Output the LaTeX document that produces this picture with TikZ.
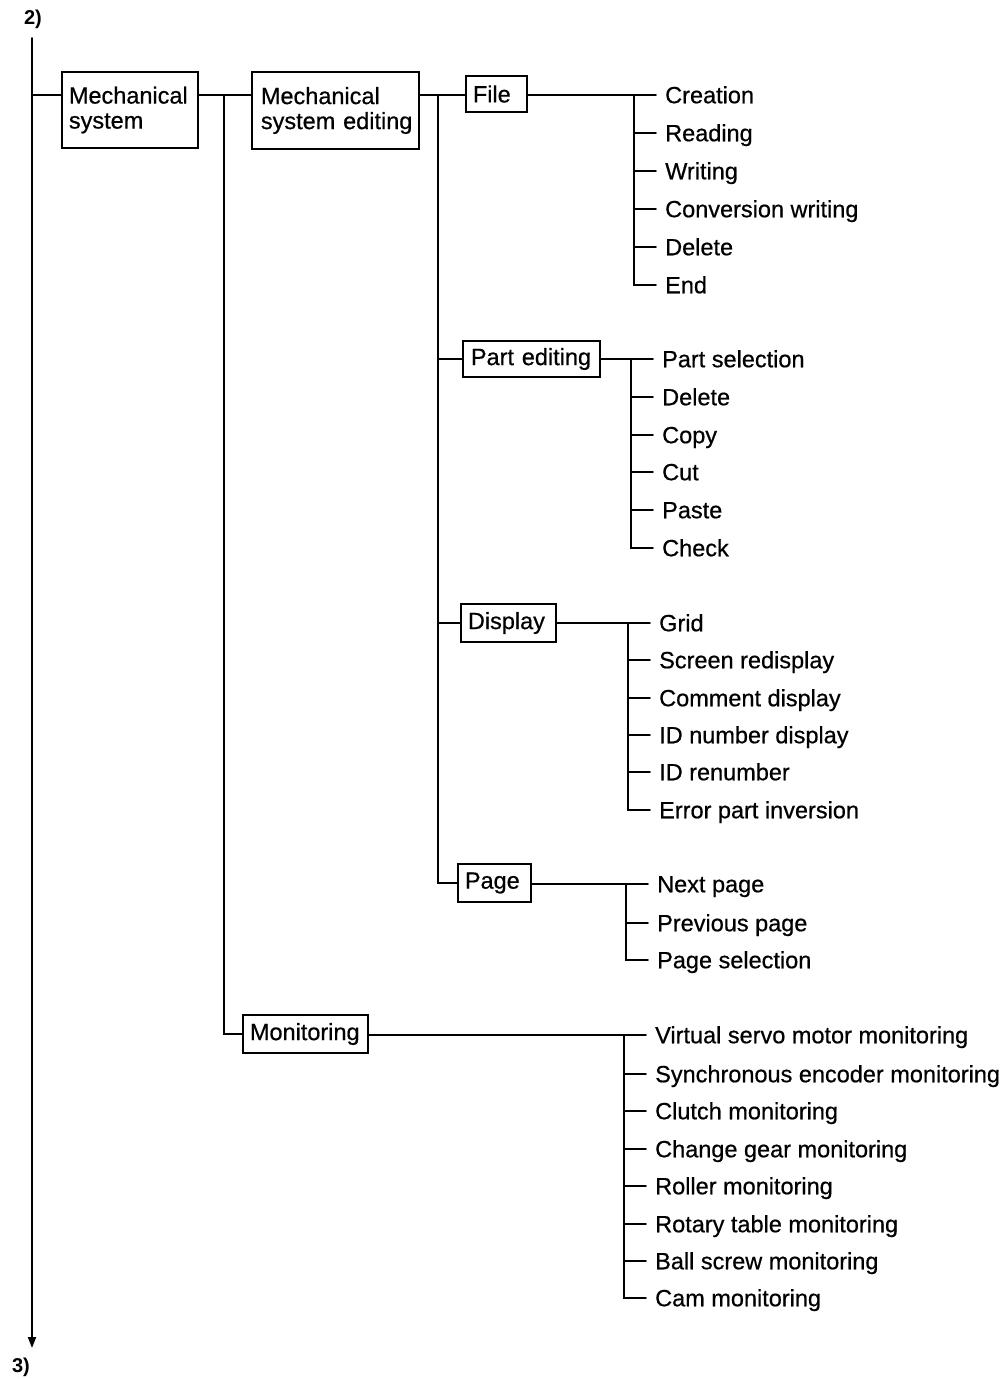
\documentclass[tikz,border=0pt]{standalone}
\usepackage{fontspec}
\setmainfont{Liberation Sans}
\newfontfamily\menufamily{Liberation Sans}[FakeBold=0.6]
\usetikzlibrary{arrows.meta}
\newcommand\menufont{\menufamily\fontsize{23.5}{25}\selectfont}
\newcommand\pagemarkfont{\fontsize{20}{22}\selectfont\bfseries}
\begin{document}
\begin{tikzpicture}[x=1pt,y=-1pt,
  line/.style={line width=1.8pt, line cap=round},
  box/.style={draw, line width=1.8pt, anchor=west, align=left,
              inner ysep=0pt, font=\menufont},
  item/.style={anchor=west, inner xsep=9pt, inner ysep=0pt,
               text height=16.5pt, text depth=0pt, font=\menufont},
  pagemark/.style={inner sep=0pt, font=\pagemarkfont}]
\useasboundingbox (0,0) rectangle (1004,1379);

% page continuation marks and the main trunk
\node[pagemark] (from) at (33,19) {2)};
\node[pagemark] (to) at (21,1367) {3)};
\coordinate (mtop) at (32,38);
\coordinate (mbot) at (32,1348);
\draw[line, -{Triangle[length=11pt,width=8pt]}] (mtop) -- (mbot);

% menu boxes
\node[box, inner xsep=7pt, text width=122pt, minimum height=76pt] (ms)  at (61,110)   {Mechanical\\system};
\node[box, inner xsep=6pt, text width=155pt, minimum height=77pt] (mse) at (251,110.5) {\hspace*{3pt}Mechanical\\\hspace*{3pt}\mbox{system editing}};
\node[box, inner xsep=7pt, text width=47pt,  minimum height=36pt] (file) at (465,94)  {File};
\node[box, inner xsep=8pt, text width=121pt, minimum height=36pt] (part) at (462,359) {Part editing};
\node[box, inner xsep=7pt, text width=81pt,  minimum height=38pt] (disp) at (460,623) {Display};
\node[box, inner xsep=7pt, text width=59pt,  minimum height=38pt] (page) at (457,883) {Page};
\node[box, inner xsep=7pt, text width=111pt, minimum height=38pt] (mon)  at (242,1034) {Monitoring};

% upper-level connectors
\coordinate (y1) at (0,95);
\coordinate (v1) at (224,95);
\coordinate (v2) at (438,95);
\draw[line] (mtop |- y1) -- (ms.west |- y1);
\draw[line] (ms.east |- y1) -- (mse.west |- y1);
\draw[line] (v1) |- (mon.west);
\draw[line] (mse.east |- y1) -- (file.west |- y1);
\draw[line] (v2) |- (page.west);
\draw[line] (v2 |- part.west) -- (part.west);
\draw[line] (v2 |- disp.west) -- (disp.west);

% File submenu
\coordinate (fv) at (634,0);
\foreach \n/\y/\t in {f1/95/Creation, f2/133/Reading, f3/171/Writing,
                      f4/209/Conversion writing, f5/247/Delete, f6/285/End}
  \node[item] (\n) at (656,\y) {\t};
\draw[line] (file.east |- f1.west) -- (fv |- f1.west) |- (f6.west);
\foreach \n in {f1,f2,f3,f4,f5}
  \draw[line] (fv |- \n.west) -- (\n.west);

% Part editing submenu
\coordinate (pv) at (631,0);
\foreach \n/\y/\t in {p1/359/Part selection, p2/397/Delete, p3/435/Copy,
                      p4/472/Cut, p5/510/Paste, p6/548/Check}
  \node[item] (\n) at (653,\y) {\t};
\draw[line] (part.east) -- (p1.west);
\draw[line] (pv |- p1.west) |- (p6.west);
\foreach \n in {p2,p3,p4,p5}
  \draw[line] (pv |- \n.west) -- (\n.west);

% Display submenu
\coordinate (dv) at (628,0);
\foreach \n/\y/\t in {d1/623/Grid, d2/660/Screen redisplay, d3/698/Comment display,
                      d4/735/ID number display, d5/772/ID renumber,
                      d6/810/Error part inversion}
  \node[item] (\n) at (650,\y) {\t};
\draw[line] (disp.east) -- (d1.west);
\draw[line] (dv |- d1.west) |- (d6.west);
\foreach \n in {d2,d3,d4,d5}
  \draw[line] (dv |- \n.west) -- (\n.west);

% Page submenu
\coordinate (gv) at (626,0);
\foreach \n/\y/\t in {g1/884/Next page, g2/923/Previous page, g3/960/Page selection}
  \node[item] (\n) at (648,\y) {\t};
\draw[line] (page.east |- g1.west) -- (g1.west);
\draw[line] (gv |- g1.west) |- (g3.west);
\draw[line] (gv |- g2.west) -- (g2.west);

% Monitoring submenu
\coordinate (mv) at (624,0);
\foreach \n/\y/\t in {m1/1035/Virtual servo motor monitoring,
                      m2/1074/Synchronous encoder monitoring,
                      m3/1111/Clutch monitoring, m4/1149/Change gear monitoring,
                      m5/1186/Roller monitoring, m6/1224/Rotary table monitoring,
                      m7/1261/Ball screw monitoring, m8/1298/Cam monitoring}
  \node[item] (\n) at (646,\y) {\t};
\draw[line] (mon.east |- m1.west) -- (m1.west);
\draw[line] (mv |- m1.west) |- (m8.west);
\foreach \n in {m2,m3,m4,m5,m6,m7}
  \draw[line] (mv |- \n.west) -- (\n.west);
\end{tikzpicture}
\end{document}
